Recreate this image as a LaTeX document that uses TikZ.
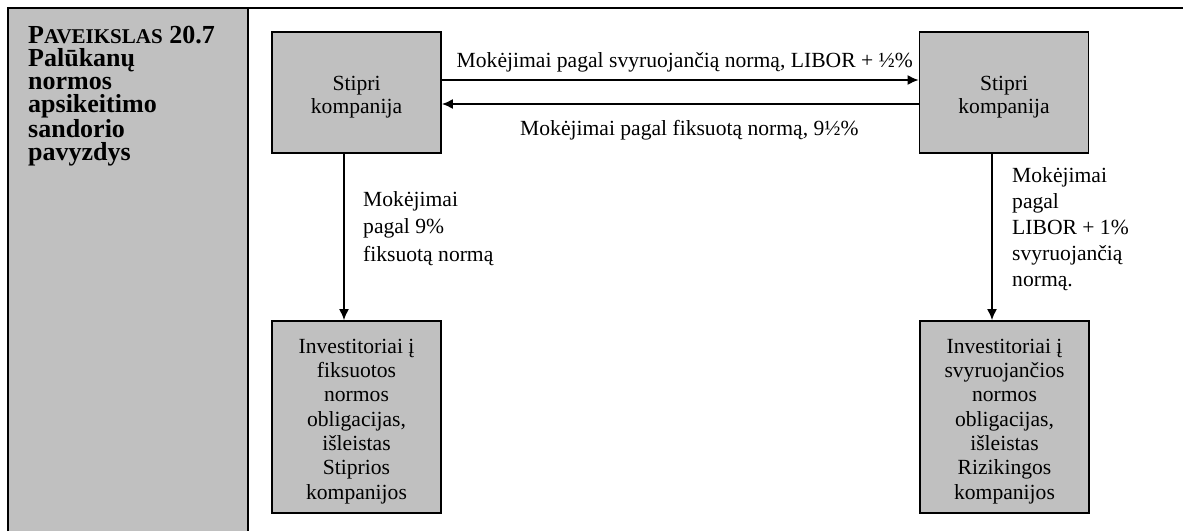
\documentclass[tikz,border=0pt]{standalone}
\usepackage{fontspec}
\setmainfont{Liberation Serif}
\usetikzlibrary{arrows.meta}
\definecolor{boxgray}{HTML}{C0C0C0}
\begin{document}
\begin{tikzpicture}[x=1pt,y=-1pt,
  box/.style={draw=black, line width=1.8pt, fill=boxgray, minimum width=169pt, inner sep=0pt, align=center},
  smallbox/.style={box, minimum height=121pt, font=\fontsize{21.6}{23.3}\selectfont},
  tallbox/.style={box, minimum height=192pt, font=\fontsize{21.6}{24.3}\selectfont},
  arr/.style={line width=1.6pt, -{Latex[length=11pt,width=10pt]}},
  lbl/.style={inner sep=0pt, font=\fontsize{21.6}{26.5}\selectfont, align=left},
  frame/.style={line width=2pt}]
\useasboundingbox (0,0) rectangle (1183,531);
\fill[boxgray] (8,8) rectangle (248,531);
\draw[frame] (8,531) -- (8,8) -- (1183,8);
\draw[frame] (248,8) -- (248,531);
\node[anchor=north west, inner sep=0pt, align=left, font=\bfseries\fontsize{26}{23}\selectfont] (title) at (28,26.5)
  {P{\fontsize{21}{23}\selectfont AVEIKSLAS} 20.7\\Palūkanų\\normos\\apsikeitimo\\sandorio\\pavyzdys};
\node[smallbox] (A) at (356.5,92.5) {\rule{0pt}{23pt}Stipri\\kompanija};
\node[smallbox] (B) at (1004,92.5) {\rule{0pt}{23pt}Stipri\\kompanija};
\node[tallbox] (C) at (356.5,417) {\rule{0pt}{23pt}Investitoriai į\\fiksuotos\\normos\\obligacijas,\\išleistas\\Stiprios\\kompanijos};
\node[tallbox] (D) at (1004.5,417) {\rule{0pt}{23pt}Investitoriai į\\svyruojančios\\normos\\obligacijas,\\išleistas\\Rizikingos\\kompanijos};
\coordinate (h1) at (0,80);
\coordinate (h2) at (0,104);
\coordinate (v1) at (344,0);
\coordinate (v2) at (992,0);
\draw[arr] (A.east |- h1) -- (B.west |- h1);
\draw[arr] (B.west |- h2) -- (A.east |- h2);
\draw[arr] (A.south -| v1) -- (C.north -| v1);
\draw[arr] (B.south -| v2) -- (D.north -| v2);
\node[lbl, anchor=base east] (l1) at (913,67) {Mokėjimai pagal svyruojančią normą, LIBOR + ½\%};
\node[lbl, anchor=base west] (l2) at (520,135) {Mokėjimai pagal fiksuotą normą, 9½\%};
\node[lbl, anchor=north west, font=\fontsize{21.6}{27.5}\selectfont] (l3) at (363,191) {Mokėjimai\\pagal 9\%\\fiksuotą normą};
\node[lbl, anchor=north west, font=\fontsize{21.6}{26}\selectfont] (l4) at (1012,167) {Mokėjimai\\pagal\\LIBOR + 1\%\\svyruojančią\\normą.};
\end{tikzpicture}
\end{document}
